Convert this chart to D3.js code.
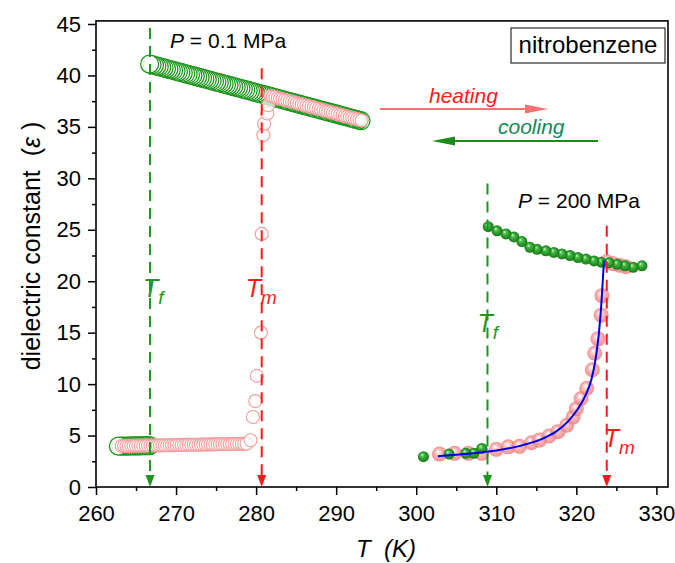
<!DOCTYPE html>
<html lang="en">
<head>
<meta charset="utf-8">
<title>nitrobenzene: dielectric constant vs T</title>
<script src="https://cdn.jsdelivr.net/npm/d3@7"></script>
<style>
  body { margin: 0; background: #fff; }
  svg { display: block; font-family: "Liberation Sans", Arial, sans-serif; }
  text { white-space: pre; }
</style>
</head>
<body>
<script>

// ---- data ----
// P = 0.1 MPa, cooling (liquid, then solid), in measurement order
var tempCoolLiq01 = [293.1, 292.8, 292.5, 292.2, 291.9, 291.6, 291.3, 291.0, 290.7, 290.4, 290.1, 289.8, 289.5, 289.2, 288.9, 288.6, 288.3, 288.0, 287.7, 287.4, 287.1, 286.8, 286.5, 286.2, 285.9, 285.6, 285.3, 285.0, 284.7, 284.4, 284.1, 283.8, 283.5, 283.2, 282.9, 282.6, 282.3, 282.0, 281.7, 281.4, 281.1, 280.8, 280.5, 280.2, 279.9, 279.6, 279.3, 279.0, 278.7, 278.4, 278.1, 277.8, 277.5, 277.2, 276.9, 276.6, 276.3, 276.0, 275.7, 275.4, 275.1, 274.8, 274.5, 274.2, 273.9, 273.6, 273.3, 273.0, 272.7, 272.4, 272.1, 271.8, 271.5, 271.2, 270.9, 270.6, 270.3, 270.0, 269.7, 269.4, 269.1, 268.8, 268.5, 268.2, 267.9, 267.6, 267.3, 267.0, 266.7];
var epsCoolLiq01 = [35.60, 35.66, 35.73, 35.79, 35.85, 35.91, 35.98, 36.04, 36.10, 36.16, 36.23, 36.29, 36.35, 36.41, 36.48, 36.54, 36.60, 36.66, 36.73, 36.79, 36.85, 36.91, 36.98, 37.04, 37.10, 37.16, 37.23, 37.29, 37.35, 37.41, 37.48, 37.54, 37.60, 37.66, 37.73, 37.79, 37.85, 37.91, 37.98, 38.04, 38.10, 38.16, 38.23, 38.29, 38.35, 38.41, 38.48, 38.54, 38.60, 38.66, 38.73, 38.79, 38.85, 38.91, 38.98, 39.04, 39.10, 39.16, 39.23, 39.29, 39.35, 39.41, 39.48, 39.54, 39.60, 39.66, 39.73, 39.79, 39.85, 39.91, 39.98, 40.04, 40.10, 40.16, 40.23, 40.29, 40.35, 40.41, 40.48, 40.54, 40.60, 40.66, 40.73, 40.79, 40.85, 40.91, 40.98, 41.04, 41.10];
var tempCoolSol01 = [266.7, 266.4, 266.1, 265.8, 265.5, 265.2, 264.9, 264.6, 264.3, 264.0, 263.7, 263.4, 263.1, 262.8];
var epsCoolSol01 = [4.02, 4.02, 4.01, 4.01, 4.00, 4.00, 3.99, 3.99, 3.99, 3.98, 3.98, 3.98, 3.97, 3.97];

// P = 0.1 MPa, heating (solid, melting, liquid)
var tempHeatSol01 = [263.2, 263.5, 263.8, 264.1, 264.4, 264.7, 265.0, 265.3, 265.6, 265.9, 266.2, 266.5, 266.8, 267.1, 267.4, 267.7, 268.0, 268.3, 268.6, 268.9, 269.2, 269.5, 269.8, 270.1, 270.4, 270.7, 271.0, 271.3, 271.6, 271.9, 272.2, 272.5, 272.8, 273.1, 273.4, 273.7, 274.0, 274.3, 274.6, 274.9, 275.2, 275.5, 275.8, 276.1, 276.4, 276.7, 277.0, 277.3, 277.6, 277.9, 278.2, 278.5, 278.8];
var epsHeatSol01 = [3.98, 3.98, 3.99, 3.99, 4.00, 4.00, 4.01, 4.01, 4.01, 4.02, 4.02, 4.03, 4.03, 4.03, 4.04, 4.04, 4.05, 4.05, 4.06, 4.06, 4.06, 4.07, 4.07, 4.08, 4.08, 4.09, 4.09, 4.09, 4.10, 4.10, 4.11, 4.11, 4.11, 4.12, 4.12, 4.13, 4.13, 4.14, 4.14, 4.14, 4.15, 4.15, 4.16, 4.16, 4.16, 4.17, 4.17, 4.18, 4.18, 4.19, 4.19, 4.19, 4.20];
var tempHeatMelt01 = [279.3, 279.6, 279.9, 280.1, 280.6, 280.7, 280.9, 281.0, 281.4, 281.5];
var epsHeatMelt01 = [4.55, 6.8, 8.35, 10.8, 15.0, 24.6, 34.2, 35.3, 36.3, 37.1];
var tempHeatLiq01 = [281.8, 282.1, 282.4, 282.7, 283.0, 283.3, 283.6, 283.9, 284.2, 284.5, 284.8, 285.1, 285.4, 285.7, 286.0, 286.3, 286.6, 286.9, 287.2, 287.5, 287.8, 288.1, 288.4, 288.7, 289.0, 289.3, 289.6, 289.9, 290.2, 290.5, 290.8, 291.1, 291.4, 291.7, 292.0, 292.3, 292.6, 292.9, 293.2];
var epsHeatLiq01 = [38.00, 37.94, 37.88, 37.81, 37.75, 37.69, 37.63, 37.56, 37.50, 37.44, 37.38, 37.31, 37.25, 37.19, 37.13, 37.06, 37.00, 36.94, 36.88, 36.81, 36.75, 36.69, 36.63, 36.56, 36.50, 36.44, 36.38, 36.31, 36.25, 36.19, 36.13, 36.06, 36.00, 35.94, 35.88, 35.81, 35.75, 35.69, 35.63];

// P = 200 MPa
var tempHeat200 = [302.9, 304.8, 306.5, 308.2, 310.0, 311.5, 312.9, 314.4, 315.4, 316.6, 317.7, 318.8, 319.6, 320.0, 320.6, 321.3, 322.0, 322.3, 322.7, 323.1, 323.2, 323.8, 324.6, 325.4, 326.2];
var epsHeat200  = [3.2, 3.27, 3.27, 3.27, 3.66, 3.9, 3.95, 4.3, 4.56, 4.95, 5.37, 6.0, 6.8, 7.6, 8.6, 9.6, 11.4, 13.0, 14.4, 16.7, 18.6, 21.9, 21.7, 21.55, 21.4];
var tempCool200 = [328.2, 327.1, 326.1, 325.1, 324.1, 323.1, 322.2, 321.2, 320.2, 319.2, 318.2, 317.2, 316.2, 315.1, 314.2, 313.2, 312.2, 311.2, 310.1, 309.0, 308.2, 307.2, 306.2, 304.1, 300.9];
var epsCool200  = [21.5, 21.35, 21.5, 21.65, 21.8, 21.85, 21.97, 22.15, 22.3, 22.5, 22.65, 22.8, 22.95, 23.1, 23.3, 23.85, 24.3, 24.6, 24.9, 25.3, 3.75, 3.27, 3.27, 3.2, 2.95];
var tempFit200 = [302.7, 306, 310, 313, 315.5, 317.5, 319, 320.2, 321.2, 321.9, 322.4, 322.8, 323.1, 323.3, 323.45];
var epsFit200  = [3.0, 3.2, 3.55, 4.0, 4.6, 5.4, 6.4, 7.6, 9.0, 10.5, 12.4, 14.8, 17.5, 20.0, 22.0];

// transition markers: Tf / Tm at both pressures
var markerTemps = [266.75, 280.7, 308.9, 323.8];
var markerTops  = [44.6, 40.7, 29.5, 25.4];
var markerNames = ["f", "m", "f", "m"];

var xTicks = [260, 270, 280, 290, 300, 310, 320, 330];
var xMinor = [265, 275, 285, 295, 305, 315, 325];
var yTicks = [0, 5, 10, 15, 20, 25, 30, 35, 40, 45];
var yMinor = [2.5, 7.5, 12.5, 17.5, 22.5, 27.5, 32.5, 37.5, 42.5];

// ---- layout ----
var w = 675, h = 563;
var green = "#1e961e", red = "#ff1a1a";

var x = d3.scaleLinear().domain([260, 331.45]).range([96, 668]);
var y = d3.scaleLinear().domain([0, 45]).range([487, 24]);

function pts(ts, es) { return ts.map(function(t, i) { return { t: t, e: es[i] }; }); }

var svg = d3.select("body").append("svg").attr("width", w).attr("height", h);

// sphere gradients
var defs = svg.append("defs");
var gg = defs.append("radialGradient").attr("id", "ballGreen").attr("fx", 0.35).attr("fy", 0.3);
gg.append("stop").attr("offset", "0%").attr("stop-color", "#c8f5c0");
gg.append("stop").attr("offset", "40%").attr("stop-color", "#3cb43c");
gg.append("stop").attr("offset", "100%").attr("stop-color", "#187818");
var gp = defs.append("radialGradient").attr("id", "ballPink").attr("fx", 0.4).attr("fy", 0.32);
gp.append("stop").attr("offset", "0%").attr("stop-color", "#ffffff");
gp.append("stop").attr("offset", "45%").attr("stop-color", "#f7b0b0");
gp.append("stop").attr("offset", "100%").attr("stop-color", "#ee7c7c");

// axes
var tickFont = "22px";
svg.append("g").attr("transform", "translate(0," + y(0) + ")")
  .call(d3.axisBottom(x).tickValues(xTicks).tickSize(8).tickPadding(10))
  .call(function(g) { g.select(".domain").remove(); })
  .selectAll("text").style("font-size", tickFont);
svg.append("g").attr("transform", "translate(0," + y(0) + ")")
  .call(d3.axisBottom(x).tickValues(xMinor).tickSize(4).tickFormat(""))
  .call(function(g) { g.select(".domain").remove(); });
svg.append("g").attr("transform", "translate(" + x(260) + ",0)")
  .call(d3.axisLeft(y).tickValues(yTicks).tickSize(8).tickPadding(7))
  .call(function(g) { g.select(".domain").remove(); })
  .selectAll("text").style("font-size", tickFont);
svg.append("g").attr("transform", "translate(" + x(260) + ",0)")
  .call(d3.axisLeft(y).tickValues(yMinor).tickSize(4).tickFormat(""))
  .call(function(g) { g.select(".domain").remove(); });
svg.selectAll(".tick line").attr("stroke-width", 1.5);

svg.append("rect")
  .attr("x", x(260)).attr("y", y(45.3))
  .attr("width", x(331.45) - x(260)).attr("height", y(0) - y(45.3))
  .attr("fill", "none").attr("stroke", "#000").attr("stroke-width", 1.6);

// P = 0.1 MPa open circles
svg.append("g").selectAll("circle")
  .data(pts(tempCoolLiq01.concat(tempCoolSol01), epsCoolLiq01.concat(epsCoolSol01)))
  .join("circle")
  .attr("cx", function(d) { return x(d.t); })
  .attr("cy", function(d) { return y(d.e); })
  .attr("r", 9)
  .attr("fill", "#fff").attr("fill-opacity", 0.85)
  .attr("stroke", green).attr("stroke-width", 1.25);

svg.append("g").selectAll("circle")
  .data(pts(tempHeatSol01.concat(tempHeatMelt01, tempHeatLiq01), epsHeatSol01.concat(epsHeatMelt01, epsHeatLiq01)))
  .join("circle")
  .attr("cx", function(d) { return x(d.t); })
  .attr("cy", function(d) { return y(d.e); })
  .attr("r", 6.5)
  .attr("fill", "#fff").attr("fill-opacity", 0.7)
  .attr("stroke", "#f39a9a").attr("stroke-width", 1.1);

// P = 200 MPa spheres
svg.append("g").selectAll("circle")
  .data(pts(tempHeat200, epsHeat200))
  .join("circle")
  .attr("cx", function(d) { return x(d.t); })
  .attr("cy", function(d) { return y(d.e); })
  .attr("r", 7.5)
  .attr("fill", "url(#ballPink)").attr("opacity", 0.85);

svg.append("g").selectAll("circle")
  .data(pts(tempCool200, epsCool200))
  .join("circle")
  .attr("cx", function(d) { return x(d.t); })
  .attr("cy", function(d) { return y(d.e); })
  .attr("r", 5.5)
  .attr("fill", "url(#ballGreen)");

// dashed transition lines with arrowheads
markerTemps.forEach(function(t, i) {
  var col = markerNames[i] == "f" ? green : red;
  var xp = x(t);
  svg.append("line")
    .attr("x1", xp).attr("x2", xp)
    .attr("y1", y(markerTops[i])).attr("y2", y(0) - 10)
    .attr("stroke", col).attr("stroke-width", 2)
    .attr("stroke-dasharray", "11,7");
  svg.append("path")
    .attr("d", "M" + (xp - 4.5) + "," + (y(0) - 12) + "L" + (xp + 4.5) + "," + (y(0) - 12) + "L" + xp + "," + y(0) + "Z")
    .attr("fill", col);
});

// fit line
svg.append("path")
  .datum(pts(tempFit200, epsFit200))
  .attr("fill", "none").attr("stroke", "#0000e6").attr("stroke-width", 2)
  .attr("d", d3.line().x(function(d) { return x(d.t); }).y(function(d) { return y(d.e); }).curve(d3.curveMonotoneX));

// T_f / T_m labels
var labelDx = [-7, -16, -10, -3];
var labelY = [297, 297, 332, 447];
markerTemps.forEach(function(t, i) {
  var col = markerNames[i] == "f" ? green : red;
  var tx = svg.append("text")
    .attr("x", x(t) + labelDx[i]).attr("y", labelY[i])
    .attr("fill", col).style("font-style", "italic");
  tx.append("tspan").style("font-size", "25px").text("T");
  tx.append("tspan").style("font-size", "19px").attr("dy", 7).text(markerNames[i]);
});

// pressure notes
function pressure(xp, yp, txt) {
  var t = svg.append("text").attr("x", xp).attr("y", yp).style("font-size", "21px");
  t.append("tspan").style("font-style", "italic").text("P");
  t.append("tspan").text(txt);
}
pressure(170, 48, " = 0.1 MPa");
pressure(518, 208, " = 200 MPa");

// sample box
svg.append("rect").attr("x", 511).attr("y", 28).attr("width", 154).attr("height", 35)
  .attr("fill", "#fff").attr("stroke", "#000").attr("stroke-width", 1);
svg.append("text").attr("x", 588).attr("y", 53).attr("text-anchor", "middle")
  .style("font-size", "24px").text("nitrobenzene");

// heating / cooling arrows
svg.append("line").attr("x1", 380).attr("x2", 530).attr("y1", 109).attr("y2", 109)
  .attr("stroke", "#f57272").attr("stroke-width", 2);
svg.append("path").attr("d", "M525,104.5L548,109L525,113.5Z").attr("fill", "#f57272");
svg.append("text").attr("x", 429).attr("y", 103).attr("fill", red)
  .style("font-size", "21px").style("font-style", "italic").text("heating");

svg.append("line").attr("x1", 598).attr("x2", 450).attr("y1", 141).attr("y2", 141)
  .attr("stroke", "#1a8c1a").attr("stroke-width", 2);
svg.append("path").attr("d", "M455,136.5L432,141L455,145.5Z").attr("fill", "#1a8c1a");
svg.append("text").attr("x", 498).attr("y", 134).attr("fill", "#0e8a5a")
  .style("font-size", "21px").style("font-style", "italic").text("cooling");

// axis titles
var yt = svg.append("text")
  .attr("transform", "translate(40,246) rotate(-90)")
  .attr("text-anchor", "middle").style("font-size", "25px");
yt.append("tspan").text("dielectric constant  (");
yt.append("tspan").style("font-style", "italic").text("\u03b5");
yt.append("tspan").text(" )");

var xt = svg.append("text").attr("x", 386).attr("y", 557)
  .attr("text-anchor", "middle").style("font-size", "24px").style("font-style", "italic");
xt.text("T  (K)");

</script>
</body>
</html>
